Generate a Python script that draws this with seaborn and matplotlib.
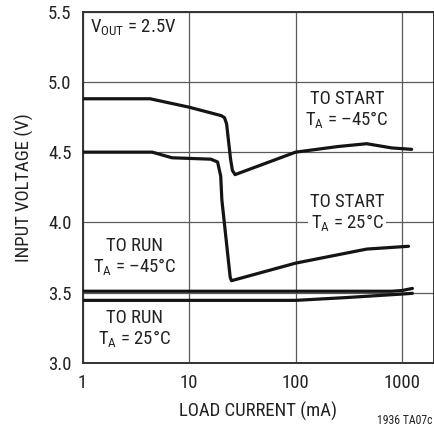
import numpy as np
import pandas as pd
import matplotlib
matplotlib.use("Agg")
import matplotlib.pyplot as plt
import seaborn as sns

# curves (load current in mA, input voltage in V)
start_m45_x = [1, 4.3, 10, 20, 21.5, 22.5, 24.5, 25.5, 27, 100, 250, 465, 800, 1230]
start_m45_y = [4.88, 4.88, 4.82, 4.76, 4.745, 4.70, 4.45, 4.37, 4.34, 4.50, 4.54, 4.56, 4.53, 4.52]

start_25_x = [1, 4.5, 6.9, 16, 18.5, 19.8, 20.3, 24.3, 25, 100, 465, 1150]
start_25_y = [4.50, 4.50, 4.46, 4.45, 4.43, 4.33, 4.16, 3.61, 3.585, 3.71, 3.81, 3.83]

run_m45_x = [1, 10, 100, 800, 1000, 1250]
run_m45_y = [3.51, 3.51, 3.51, 3.51, 3.515, 3.53]

run_25_x = [1, 10, 100, 300, 1000, 1250]
run_25_y = [3.445, 3.445, 3.445, 3.465, 3.49, 3.495]

x_ticks = [1, 10, 100, 1000]
x_tick_labels = ["1", "10", "100", "1000"]
y_ticks = [3.0, 3.5, 4.0, 4.5, 5.0, 5.5]

sns.set_style("white")
font = "Roboto Condensed"
plt.rcParams["font.family"] = [font, "Liberation Sans Narrow", "DejaVu Sans"]
plt.rcParams["mathtext.fontset"] = "custom"
plt.rcParams["mathtext.rm"] = font
plt.rcParams["mathtext.it"] = font

fig = plt.figure(figsize=(4.35, 4.32), dpi=100)
ax = fig.add_axes([0.190, 0.160, 0.808, 0.813])

fs = 13.5
curve_color = "#141414"
for xs, ys in [(start_m45_x, start_m45_y), (start_25_x, start_25_y),
               (run_m45_x, run_m45_y), (run_25_x, run_25_y)]:
    df = pd.DataFrame({"current": xs, "voltage": ys})
    sns.lineplot(data=df, x="current", y="voltage", ax=ax, color=curve_color,
                 linewidth=2.3, sort=False, zorder=3)

ax.set_xscale("log")
ax.set_xlim(1, 2000)
ax.set_ylim(3.0, 5.5)
ax.set_xticks(x_ticks)
ax.set_xticklabels(x_tick_labels)
ax.set_xticks([], minor=True)
ax.set_yticks(y_ticks)
ax.set_yticklabels([f"{v:.1f}" for v in y_ticks])
ax.tick_params(axis="both", length=0, labelsize=fs, colors="#222222")
ax.tick_params(axis="x", pad=8)
ax.tick_params(axis="y", pad=8)

ax.grid(True, which="major", color="#5a5a5a", linewidth=0.9)
for s in ax.spines.values():
    s.set_color("#333333")
    s.set_linewidth(1.4)

ax.set_xlabel("LOAD CURRENT (mA)", fontsize=fs, color="#222222", labelpad=7)
ax.set_ylabel("INPUT VOLTAGE (V)", fontsize=fs, color="#222222", labelpad=10)

box = dict(facecolor="white", edgecolor="none", pad=1.5)
txt = dict(fontsize=fs, color="#222222", ha="center", va="center", zorder=4,
           linespacing=1.05)
ax.text(0.022, 0.955, r"V$_{\rm OUT}$ = 2.5V", transform=ax.transAxes,
        fontsize=fs, color="#222222", ha="left", va="center", bbox=box, zorder=4)
ax.text(305, 4.80, "TO START\n" + r"T$_{\rm A}$ = –45°C", bbox=box, **txt)
ax.text(305, 4.065, "TO START\n" + r"T$_{\rm A}$ = 25°C", bbox=box, **txt)
ax.text(3.1, 3.755, "TO RUN\n" + r"T$_{\rm A}$ = –45°C", bbox=box, **txt)
ax.text(3.05, 3.24, "TO RUN\n" + r"T$_{\rm A}$ = 25°C", bbox=box, **txt)

fig.text(0.995, 0.012, "1936 TA07c", fontsize=8.5, color="#222222",
         ha="right", va="bottom")

fig.savefig("out.png", dpi=100)
